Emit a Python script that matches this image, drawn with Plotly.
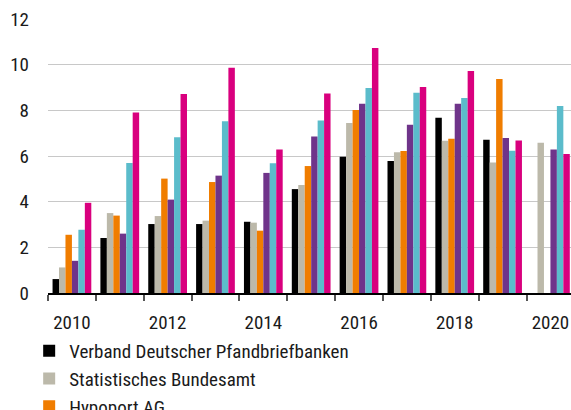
import plotly.graph_objects as go

years = [2010, 2011, 2012, 2013, 2014, 2015, 2016, 2017, 2018, 2019, 2020]
tick_years = [2010, 2012, 2014, 2016, 2018, 2020]
y_ticks = [0, 2, 4, 6, 8, 10, 12]

names = [
    "Verband Deutscher Pfandbriefbanken",
    "Statistisches Bundesamt",
    "Hypoport AG",
    "Deutsche Bundesbank",
    "empirica",
    "Europace",
]
colors = ["#000000", "#bcb9aa", "#f07d00", "#6f348a", "#5bbccb", "#d9007e"]

vdp = [0.61, 2.41, 3.02, 3.02, 3.12, 4.55, 5.97, 5.78, 7.68, 6.71, None]
destatis = [1.12, 3.50, 3.37, 3.17, 3.08, 4.73, 7.45, 6.16, 6.67, 5.72, 6.58]
hypoport = [2.55, 3.39, 5.01, 4.86, 2.73, 5.56, 8.02, 6.22, 6.76, 9.37, None]
bundesbank = [1.41, 2.60, 4.09, 5.14, 5.26, 6.85, 8.29, 7.37, 8.29, 6.79, 6.29]
empirica = [2.77, 5.69, 6.82, 7.52, 5.68, 7.55, 8.98, 8.77, 8.54, 6.23, 8.19]
europace = [3.95, 7.90, 8.72, 9.87, 6.28, 8.74, 10.73, 9.02, 9.72, 6.68, 6.09]

series = [vdp, destatis, hypoport, bundesbank, empirica, europace]

FONT = "Roboto Condensed, Liberation Sans Narrow, Arial Narrow, sans-serif"

fig = go.Figure()
for name, vals, col in zip(names, series, colors):
    fig.add_trace(go.Bar(x=years, y=vals, name=name, marker_color=col,
                         marker_line_width=0))

fig.update_layout(
    width=571, height=410,
    barmode="group", bargap=0.19, bargroupgap=0,
    plot_bgcolor="white", paper_bgcolor="white",
    margin=dict(l=47.5, r=0, t=19, b=116.7, autoexpand=False),
    font=dict(family=FONT, size=19, color="#1a1a1a"),
    showlegend=True,
    legend=dict(
        orientation="v", x=-0.036, xanchor="left", y=-0.142, yanchor="top",
        font=dict(family=FONT, size=19, color="#1a1a1a"),
        traceorder="normal", tracegroupgap=0, itemwidth=30,
        bgcolor="rgba(0,0,0,0)",
    ),
    xaxis=dict(
        range=[2009.5, 2020.43],
        tickvals=tick_years, ticktext=[str(y) for y in tick_years],
        ticks="", showgrid=False, zeroline=False,
        showline=True, linecolor="#000000", linewidth=1.5,
        minor=dict(tick0=2009.5, dtick=1, ticks="outside", ticklen=6,
                   tickcolor="#555555", tickwidth=1.5, showgrid=False),
        ticklabelstandoff=11, ticklabeloverflow="allow",
        tickfont=dict(size=19),
    ),
    yaxis=dict(
        range=[0, 12], tickvals=y_ticks,
        showgrid=True, gridcolor="#c8c8c8", gridwidth=1.3,
        zeroline=False, showline=False, ticks="",
        ticklabelstandoff=18, ticklabeloverflow="allow",
        tickfont=dict(size=19),
    ),
)

fig.write_html(
    "out.html",
    config={"displayModeBar": False},
    post_script="document.body.style.margin='0';document.body.style.overflow='hidden';",
)
